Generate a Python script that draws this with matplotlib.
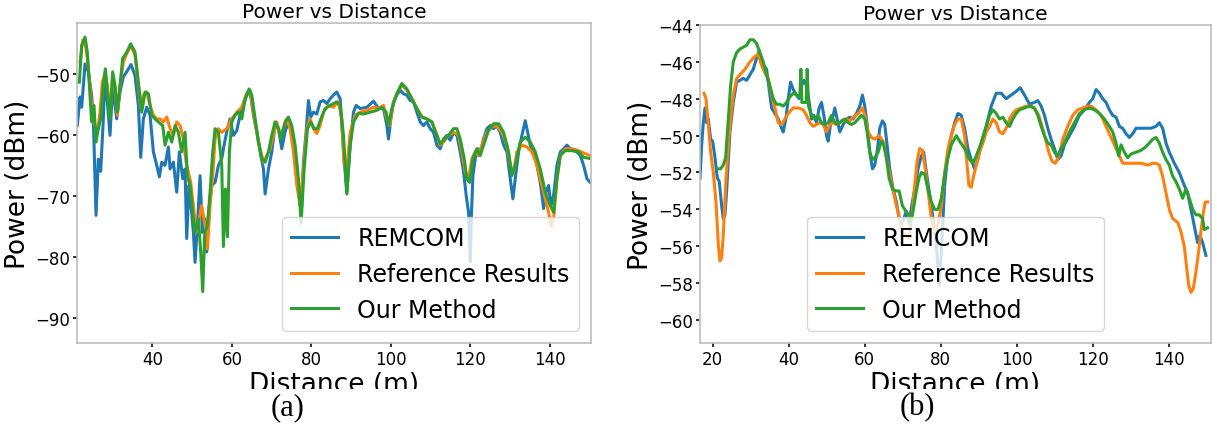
import matplotlib
matplotlib.use("Agg")
import matplotlib.pyplot as plt
from matplotlib.patches import Rectangle

# ---------------- data: panel (a) ----------------
a_rem_x = [21.08, 21.76, 22.18, 23.02, 23.85, 24.69, 25.11, 25.79, 26.37, 26.96, 27.63, 28.05, 28.64, 29.31, 29.98,
           30.57, 30.99, 31.83, 32.67, 33.51, 34.6, 35.61, 36.45, 37.04, 37.71, 38.55, 39.39, 40.23, 41.07, 41.74,
           42.33, 43.17, 44.01, 44.43, 45.27, 46.1, 46.78, 47.62, 48.2, 48.62, 49.21, 49.72, 50.3, 50.72, 51.31,
           51.98, 52.57, 53.24, 53.66, 54.33, 54.92, 55.76, 56.6, 57.44, 58.03, 58.7, 59.54, 60.38, 61.22, 62.06,
           62.9, 63.74, 64.58, 65.42, 66.26, 67.1, 67.94, 68.36, 69.2, 70.03, 70.87, 71.71, 72.55, 73.39, 74.23,
           75.07, 75.91, 76.75, 77.42, 78.01, 78.68, 79.27, 79.86, 80.53, 81.37, 82.21, 83.05, 83.89, 84.73, 85.57,
           86.41, 87.25, 88.09, 88.93, 89.77, 90.61, 91.28, 92.29, 93.97, 95.65, 96.9, 98.17, 99.0, 99.42, 100.01,
           100.68, 101.52, 102.36, 103.2, 104.04, 104.88, 105.72, 106.56, 107.4, 108.24, 109.08, 109.92, 110.76,
           111.6, 112.44, 113.28, 114.12, 114.96, 115.8, 116.64, 117.48, 118.32, 118.99, 119.58, 120.0, 120.25,
           120.67, 121.26, 121.84, 122.51, 123.35, 124.19, 125.03, 125.87, 126.71, 127.55, 128.39, 129.23, 130.07,
           130.74, 131.33, 132.17, 133.01, 133.85, 134.44, 135.11, 135.95, 136.79, 137.63, 138.47, 139.06, 139.73,
           140.32, 140.99, 141.83, 142.67, 143.51, 144.34, 145.18, 146.02, 146.86, 147.7, 148.54, 149.38, 150.22]
a_rem_y = [-58.5, -53.8, -55.5, -48.4, -49.7, -53.5, -57.4, -73.2, -64.0, -66.0, -57.4, -50.3, -54.6, -60.1, -51.9,
           -55.2, -57.4, -53.0, -50.5, -49.7, -48.5, -50.3, -55.2, -63.7, -57.4, -55.5, -56.8, -62.8, -65.0, -66.9,
           -64.5, -65.0, -62.0, -65.6, -64.5, -69.4, -62.8, -67.2, -65.6, -77.0, -68.3, -71.6, -76.0, -80.9, -74.9,
           -66.7, -76.0, -73.8, -79.2, -71.6, -68.3, -67.8, -65.0, -63.9, -61.7, -59.5, -57.4, -60.1, -59.3, -56.8,
           -55.2, -53.5, -53.0, -56.8, -59.5, -62.8, -65.6, -69.7, -65.6, -62.8, -58.5, -59.0, -62.3, -59.5, -57.9,
           -59.5, -63.9, -68.3, -73.2, -64.5, -59.5, -54.4, -57.1, -56.3, -56.6, -54.6, -54.4, -54.9, -54.1, -53.5,
           -53.0, -54.1, -62.8, -69.4, -61.7, -56.3, -55.2, -55.7, -55.5, -54.5, -55.7, -55.7, -58.5, -60.7, -57.4,
           -54.6, -53.5, -52.7, -53.3, -53.5, -54.4, -54.6, -56.3, -57.9, -58.5, -57.9, -59.0, -59.6,
           -61.7, -62.3, -60.7, -60.1, -60.9, -59.6, -60.1, -62.8, -66.1, -70.0, -72.7, -80.8, -74.0,
           -66.7, -63.9, -62.3, -62.8, -60.7, -59.0, -58.5, -59.0, -58.5, -59.6, -61.7, -62.8, -67.2,
           -70.5, -67.2, -62.8, -60.1, -57.7, -59.6, -61.7, -62.8, -65.0, -67.8, -72.1, -69.4, -68.3,
           -71.6, -69.9, -65.0, -62.8, -62.3, -61.7, -62.3, -62.6, -62.8, -63.4, -65.0, -67.2, -67.8]

a_ref_x = [21.76, 22.43, 23.02, 23.6, 24.27, 24.95, 25.53, 26.12, 26.79, 27.38, 28.05, 28.64, 29.31, 29.98, 30.57,
           31.16, 31.83, 32.67, 33.51, 34.6, 35.61, 36.45, 37.04, 37.71, 38.55, 39.39, 40.23, 41.07, 41.91, 42.75,
           43.59, 44.43, 45.27, 46.1, 46.94, 47.78, 48.46, 49.04, 49.63, 50.3, 50.97, 51.56, 52.4, 53.24, 53.83,
           54.5, 55.17, 55.76, 56.6, 57.44, 58.7, 59.96, 61.22, 62.48, 63.74, 64.58, 65.42, 66.26, 67.1, 67.94,
           68.78, 69.62, 70.62, 71.29, 72.13, 72.97, 73.81, 74.65, 75.49, 76.33, 77.17, 78.01, 78.85, 79.69, 80.53,
           81.37, 82.21, 83.05, 84.31, 85.57, 86.83, 87.67, 88.26, 88.93, 89.77, 91.03, 92.29, 93.97, 95.65, 96.9,
           98.17, 99.0, 99.68, 100.68, 101.94, 102.78, 104.04, 105.3, 106.56, 107.82, 109.08, 110.34, 111.6,
           112.44, 113.28, 114.54, 115.8, 117.06, 117.9, 118.74, 119.58, 120.42, 121.26, 122.1, 122.93, 124.19,
           125.45, 126.71, 127.97, 129.23, 130.07, 130.91, 131.75, 133.01, 134.27, 135.53, 136.79, 138.05, 138.89,
           139.73, 140.4, 140.99, 141.83, 142.67, 143.93, 145.6, 147.28, 148.96, 150.22]
a_ref_y = [-48.1, -44.5, -44.8, -47.5, -51.9, -57.4, -58.5, -59.6, -56.3, -51.4, -50.0, -51.9, -56.3, -50.5, -52.5,
           -56.8, -51.9, -48.1, -46.7, -45.4, -47.0, -51.9, -55.7, -53.5, -53.0, -55.2, -56.8, -57.4, -57.4, -57.9,
           -57.1, -59.0, -60.1, -57.9, -58.5, -60.7, -64.5, -66.1, -67.8, -71.6, -76.0, -74.4, -71.6, -74.9, -78.7,
           -71.6, -66.7, -60.7, -59.0, -59.6, -59.0, -57.4, -56.3, -55.5, -53.2, -52.7, -56.3, -59.6, -62.3, -64.5,
           -63.4, -62.3, -59.6, -57.9, -60.1, -59.0, -57.4, -59.0, -62.8, -68.3, -71.6, -65.6, -59.0, -57.4, -59.0,
           -59.8, -58.5, -56.3, -55.2, -55.5, -54.6, -57.4, -65.0, -65.5, -59.6, -56.8, -56.3, -56.0, -55.5, -55.7,
           -55.2, -57.4, -58.5, -54.6, -52.7, -51.9, -52.7, -54.1, -55.7, -57.1, -57.4, -57.9, -60.1,
           -61.7, -61.2, -60.1, -59.6, -60.1, -62.8, -66.1, -67.2, -63.9, -62.8, -63.4, -61.7, -59.6,
           -58.7, -58.5, -59.6, -61.7, -65.0, -66.1, -62.8, -61.7, -62.0, -62.8, -65.0, -68.3, -70.5,
           -72.7, -75.0, -73.8, -67.2, -63.4, -62.3, -62.3, -62.6, -63.1, -63.4]

a_our_x = [21.59, 22.18, 23.02, 23.6, 24.11, 24.69, 25.28, 25.79, 26.37, 26.96, 27.63, 28.14, 28.72, 29.31, 29.98,
           30.57, 31.16, 31.83, 32.5, 33.51, 34.52, 35.61, 36.45, 37.29, 38.13, 38.97, 39.81, 40.65, 41.49, 42.58,
           43.17, 44.01, 44.85, 45.69, 46.52, 47.36, 48.2, 48.79, 49.46, 50.13, 50.72, 51.56, 52.15, 52.65, 53.16,
           53.83, 54.5, 55.17, 55.76, 56.6, 57.44, 57.86, 58.36, 58.87, 59.37, 59.96, 60.8, 61.64, 62.48, 63.32,
           64.33, 65.0, 65.84, 66.68, 67.52, 68.36, 69.2, 70.03, 70.87, 71.71, 72.3, 73.39, 74.23, 75.07, 75.91,
           76.75, 77.42, 78.18, 79.02, 79.86, 80.7, 81.54, 82.38, 83.47, 84.73, 86.41, 87.25, 88.09, 88.93, 89.77,
           90.61, 91.87, 93.13, 94.81, 96.49, 97.75, 98.84, 99.42, 100.26, 101.52, 102.78, 104.04, 105.3, 106.56,
           107.82, 109.08, 110.34, 111.6, 112.44, 113.28, 114.54, 115.8, 116.64, 117.48, 118.48, 119.16, 119.83,
           120.67, 121.67, 122.51, 123.35, 124.61, 125.87, 127.13, 128.39, 129.65, 130.49, 131.33, 132.59, 133.85,
           135.11, 136.37, 137.63, 138.89, 140.15, 140.99, 141.83, 142.67, 143.93, 145.6, 147.28, 148.54, 150.22]
a_our_y = [-51.4, -45.4, -44.0, -46.5, -51.9, -57.9, -55.2, -61.2, -59.0, -57.4, -51.9, -49.2, -53.5, -57.4, -49.7,
           -51.9, -56.3, -51.9, -47.5, -46.5, -45.1, -46.5, -51.4, -56.3, -53.0, -53.3, -56.8, -57.4, -57.9, -58.5,
           -61.7, -59.6, -61.2, -58.5, -59.6, -62.8, -59.6, -66.7, -68.3, -72.7, -76.0, -73.8, -79.2, -85.7, -76.0,
           -74.9, -69.4, -62.8, -59.0, -59.6, -65.0, -78.3, -68.9, -76.7, -62.8, -57.9, -56.8, -56.3, -57.4, -54.1,
           -52.5, -53.5, -57.4, -61.2, -63.9, -64.5, -62.8, -60.1, -57.9, -59.0, -60.7, -57.9, -57.1, -58.5, -61.7,
           -67.2, -74.5, -65.6, -59.0, -57.9, -59.0, -59.0, -57.4, -55.7, -55.2, -54.6, -55.2, -60.1, -69.7, -61.7,
           -57.9, -56.5, -56.6, -56.3, -56.0, -55.5, -56.3, -58.5, -55.7, -53.3, -51.6, -52.5, -54.1, -55.7,
           -57.1, -57.4, -57.9, -60.1, -61.5, -60.9, -60.1, -59.0, -59.0, -60.7, -63.9, -67.2, -67.8,
           -63.9, -62.3, -63.4, -61.7, -59.3, -58.2, -58.2, -59.6, -62.8, -66.7, -65.0, -61.2, -60.4,
           -61.2, -62.8, -65.6, -69.4, -71.6, -72.7, -67.2, -63.4, -62.6, -62.6, -62.8, -63.7, -63.9]

# ---------------- data: panel (b) ----------------
b_rem_x = [16.7, 17.14, 17.57, 18.01, 18.45, 18.89, 19.5, 20.02, 20.64, 21.25, 21.77, 22.39, 22.82, 23.26, 23.7,
           24.14, 24.57, 25.45, 26.32, 27.2, 28.07, 28.95, 29.82, 30.7, 31.57, 32.27, 32.89, 33.5, 34.2, 34.9,
           35.51, 36.39, 37.26, 38.14, 38.57, 39.27, 39.88, 40.5, 41.2, 42.07, 42.77, 43.38, 44.0, 44.7, 45.4,
           46.01, 46.62, 47.32, 48.02, 48.63, 49.25, 49.95, 50.38, 51.0, 51.7, 52.13, 52.75, 53.45, 54.32, 55.2,
           56.07, 56.95, 57.82, 58.7, 59.39, 60.01, 60.62, 61.32, 62.02, 62.63, 63.24, 63.94, 64.64, 65.26, 65.87,
           66.57, 67.45, 68.32, 69.02, 69.63, 70.24, 70.94, 71.64, 72.26, 73.13, 74.01, 74.88, 75.49, 76.19, 77.07,
           77.94, 78.82, 79.52, 80.13, 81.0, 81.88, 82.75, 83.63, 84.5, 85.36, 86.24, 87.11, 87.99, 88.86, 89.74,
           90.61, 91.92, 93.24, 94.55, 95.86, 97.17, 98.49, 99.8, 100.85, 101.99, 103.3, 104.61, 105.48, 106.36,
           107.23, 108.11, 108.98, 109.86, 110.73, 111.61, 112.48, 113.8, 115.11, 116.42, 117.73, 119.05, 119.92,
           120.8, 121.67, 122.54, 123.42, 124.29, 125.17, 126.04, 126.92, 127.79, 128.67, 129.54, 130.42, 131.29,
           132.61, 133.92, 135.23, 136.54, 137.42, 138.29, 139.17, 140.04, 141.36, 142.67, 143.98, 144.86, 145.73,
           146.6, 147.48, 148.09, 148.79, 149.67]
b_rem_y = [-52.3, -50.5, -49.3, -48.5, -49.3, -49.1, -50.2, -50.3, -51.2, -52.3, -52.5, -53.8, -54.5, -54.3, -53.0,
           -51.4, -49.8, -48.2, -47.1, -47.0, -46.9, -47.0, -46.7, -46.4, -45.8, -45.4, -46.0, -46.2, -46.4, -47.5,
           -48.5, -48.8, -49.1, -49.6, -49.8, -49.1, -48.0, -47.1, -47.5, -47.8, -48.0, -47.3, -47.0, -47.3, -48.2,
           -49.1, -48.9, -49.3, -48.5, -48.2, -48.9, -50.0, -50.3, -49.4, -48.9, -48.5, -49.1, -49.8, -49.4, -49.1,
           -49.0, -49.1, -48.8, -48.4, -47.8, -48.4, -49.4, -50.9, -51.8, -51.6, -50.9, -49.6, -49.2, -49.4, -50.5,
           -51.8, -52.9, -53.6, -54.5, -54.8, -54.5, -54.1, -54.8, -53.9, -52.9, -51.8, -51.1, -50.9, -52.0, -53.2,
           -54.5, -55.9, -58.1, -56.3, -52.7, -50.9, -50.0, -49.3, -48.8, -48.9, -49.6, -50.7, -51.3, -51.8, -51.3,
           -50.4, -49.5, -48.4, -47.7, -47.7, -48.0, -47.8, -47.6, -47.4, -47.8, -48.3, -48.2, -48.1, -48.4,
           -48.9, -49.6, -50.2, -50.7, -51.3, -51.1, -50.5, -50.0, -49.5, -48.9, -48.6, -48.2, -48.0,
           -47.5, -47.7, -48.0, -48.2, -48.6, -48.9, -49.0, -49.5, -49.6, -49.9, -50.1, -49.9, -49.6,
           -49.6, -49.6, -49.6, -49.5, -49.3, -49.6, -50.4, -50.9, -51.5, -52.0, -52.7, -53.1, -54.0,
           -54.9, -55.8, -55.4, -55.8, -56.5]

b_ref_x = [17.75, 18.27, 18.89, 19.5, 20.2, 20.9, 21.51, 21.95, 22.39, 22.82, 23.44, 24.14, 24.75, 25.45, 26.32,
           27.2, 28.51, 29.82, 31.14, 32.01, 32.89, 33.76, 34.64, 35.51, 36.39, 37.26, 38.14, 39.01, 39.88, 41.2,
           42.51, 43.82, 44.7, 45.57, 46.45, 47.32, 48.2, 49.07, 49.95, 50.82, 51.7, 52.57, 53.45, 54.32, 55.2,
           56.07, 56.95, 58.26, 59.39, 60.01, 60.88, 61.76, 62.63, 63.77, 64.82, 65.69, 66.57, 67.45, 68.32, 69.19,
           69.89, 70.77, 71.64, 72.52, 73.13, 73.74, 74.44, 75.14, 75.76, 76.63, 77.51, 78.38, 79.26, 80.13, 81.0,
           81.88, 82.75, 83.63, 84.5, 85.36, 86.24, 86.85, 87.37, 87.99, 88.6, 89.3, 90.17, 91.05, 91.92, 92.8,
           93.67, 94.55, 95.42, 96.3, 97.17, 98.05, 98.92, 99.8, 101.11, 102.42, 103.73, 104.87, 105.75, 106.62,
           107.5, 108.37, 109.25, 110.12, 111.0, 112.05, 113.36, 114.67, 115.98, 117.3, 118.61, 119.48, 120.8,
           122.11, 123.42, 124.73, 126.04, 126.92, 127.79, 129.11, 130.86, 132.61, 134.36, 135.67, 136.54, 137.42,
           138.29, 139.17, 140.04, 140.92, 142.23, 143.1, 143.98, 144.59, 145.12, 145.73, 146.34, 147.04, 147.74,
           148.35, 148.97, 149.49, 150.1]
b_ref_y = [-47.7, -48.0, -49.4, -50.9, -52.0, -53.6, -55.9, -56.8, -56.6, -55.4, -52.7, -50.5, -49.1, -47.8, -46.9,
           -46.7, -46.4, -46.0, -45.7, -45.6, -46.2, -46.6, -46.9, -47.8, -48.5, -49.3, -49.4, -49.1, -48.8, -48.5,
           -48.5, -48.6, -48.9, -49.3, -49.5, -49.4, -49.3, -49.4, -49.8, -49.4, -49.3, -49.4, -49.3, -49.2, -49.1,
           -49.2, -49.0, -48.8, -48.5, -48.9, -49.8, -50.1, -50.2, -50.0, -50.3, -51.2, -52.1, -53.0, -53.8, -54.5,
           -55.2, -55.4, -55.6, -54.1, -52.7, -51.4, -50.7, -50.8, -51.6, -53.0, -54.5, -55.2, -54.8, -53.8, -52.0,
           -50.7, -50.0, -49.4, -49.1, -49.1, -50.0, -51.5, -52.7, -52.8, -52.2, -51.6, -50.9, -50.4, -49.8, -49.5,
           -49.1, -49.3, -49.8, -49.9, -49.6, -49.1, -48.8, -48.6, -48.5, -48.4, -48.4, -48.6, -48.9, -49.5,
           -50.2, -50.9, -51.4, -51.5, -51.1, -50.2, -49.5, -48.9, -48.6, -48.5, -48.4, -48.4, -48.6,
           -48.9, -49.5, -50.1, -50.7, -51.1, -51.5, -51.5, -51.5, -51.5, -51.6, -51.5, -51.5, -51.6,
           -52.2, -53.1, -54.0, -54.5, -54.7, -55.2, -56.0, -57.1, -58.1, -58.5, -58.3, -57.4, -56.3,
           -55.2, -54.2, -53.6, -53.6]

b_our_x = [21.51, 22.12, 22.82, 23.44, 24.14, 24.75, 25.45, 26.32, 27.2, 28.07, 28.95, 29.82, 30.7, 31.57, 32.45,
           33.32, 34.2, 35.07, 35.95, 36.82, 37.7, 38.57, 39.45, 40.32, 41.2, 42.07, 42.95, 43.21, 43.47, 44.26,
           44.61, 44.87, 45.22, 46.01, 46.88, 47.76, 48.63, 49.51, 50.38, 51.26, 52.13, 53.01, 53.88, 54.76, 55.63,
           56.51, 57.38, 58.26, 59.13, 60.01, 60.62, 61.32, 62.02, 62.63, 63.51, 64.38, 65.0, 65.69, 66.39, 67.27,
           68.14, 69.02, 69.89, 70.77, 71.38, 71.99, 72.69, 73.57, 74.27, 74.88, 75.76, 76.63, 77.51, 78.38, 79.26,
           80.13, 81.0, 81.88, 82.75, 84.07, 84.92, 86.24, 87.55, 88.42, 89.3, 90.61, 91.92, 92.8, 93.67, 94.55,
           95.42, 96.3, 97.17, 98.05, 98.92, 99.8, 100.67, 101.99, 103.3, 104.61, 105.48, 106.36, 107.23, 108.11,
           108.98, 109.86, 110.73, 111.61, 112.48, 113.8, 115.11, 116.42, 117.73, 119.05, 120.36, 121.67, 122.98,
           124.29, 125.17, 126.04, 126.74, 127.36, 128.23, 129.11, 129.98, 131.29, 132.61, 133.92, 134.8, 135.67,
           136.54, 137.42, 138.29, 139.17, 140.04, 140.92, 141.79, 142.67, 143.54, 144.42, 145.29, 146.17, 147.04,
           147.92, 148.79, 149.23, 150.1]
b_our_y = [-51.8, -51.8, -51.6, -51.2, -49.1, -47.3, -46.0, -45.5, -45.3, -45.2, -45.1, -44.8, -44.8, -45.0, -45.5,
           -46.0, -46.7, -47.3, -48.0, -48.3, -48.3, -48.4, -48.2, -47.9, -47.7, -47.8, -47.9, -46.4, -48.2, -48.2,
           -48.2, -46.4, -48.4, -48.9, -49.1, -48.9, -49.3, -49.4, -49.3, -48.9, -49.3, -49.4, -49.2, -49.1, -49.3,
           -49.4, -49.3, -49.1, -48.9, -49.1, -49.8, -50.9, -51.3, -51.2, -50.9, -50.3, -50.5, -51.2, -52.3, -52.9,
           -53.0, -53.0, -53.8, -54.1, -54.3, -54.8, -54.1, -53.0, -52.3, -52.0, -52.1, -52.9, -53.6, -54.0, -54.0,
           -53.4, -52.1, -51.2, -50.5, -50.0, -50.3, -50.7, -51.3, -51.5, -51.1, -50.4, -49.5, -48.9, -48.6, -48.8,
           -49.1, -49.0, -49.3, -49.5, -49.1, -48.8, -48.6, -48.5, -48.4, -48.5, -48.9, -49.5, -50.0, -50.4,
           -50.5, -50.9, -51.1, -50.7, -50.4, -49.8, -49.3, -48.8, -48.6, -48.5, -48.6, -48.8, -49.1,
           -49.5, -49.8, -50.4, -51.1, -50.5, -50.9, -51.2, -51.0, -50.9, -50.8, -50.6, -50.4, -50.2,
           -50.1, -50.4, -50.9, -51.3, -51.6, -52.2, -52.5, -52.9, -53.4, -52.9, -53.4, -54.0, -54.3,
           -54.3, -54.5, -55.1, -55.0]

labels = ["REMCOM", "Reference Results", "Our Method"]
colors = ["#1f77b4", "#ff7f0e", "#2ca02c"]

panels = [
    dict(series=[(a_rem_x, a_rem_y), (a_ref_x, a_ref_y), (a_our_x, a_our_y)],
         xlim=(21.0, 150.4), ylim=(-94.1, -41.7), yticks=[-90, -80, -70, -60, -50],
         xticks=[40, 60, 80, 100, 120, 140], loc="lower right", caption="(a)",
         rect=[77 / 1217, 83 / 427, 514 / 1217, 320 / 427], cap_x=288 / 1217),
    dict(series=[(b_rem_x, b_rem_y), (b_ref_x, b_ref_y), (b_our_x, b_our_y)],
         xlim=(16.7, 151.0), ylim=(-61.25, -44.0), yticks=[-60, -58, -56, -54, -52, -50, -48, -46, -44],
         xticks=[20, 40, 60, 80, 100, 120, 140], loc="lower center", caption="(b)",
         rect=[700 / 1217, 83 / 427, 511 / 1217, 318 / 427], cap_x=917 / 1217),
]

fig = plt.figure(figsize=(12.17, 4.27), dpi=100)
for p in panels:
    ax = fig.add_axes(p["rect"])
    for (xs, ys), lab, c in zip(p["series"], labels, colors):
        ax.plot(xs, ys, color=c, lw=2.2, label=lab)
    ax.set_xlim(*p["xlim"])
    ax.set_ylim(*p["ylim"])
    ax.set_xticks(p["xticks"])
    ax.set_yticks(p["yticks"])
    ax.tick_params(labelsize=12, length=3, width=1.3, color="#222222", pad=2)
    for s in ax.spines.values():
        s.set_color("#bdbdbd")
        s.set_linewidth(1.2)
    ax.set_title("Power vs Distance", fontsize=14.5, pad=4)
    ax.set_xlabel("Distance (m)", fontsize=19, labelpad=2)
    ax.set_ylabel("Power (dBm)", fontsize=19, labelpad=3)
    ax.legend(loc=p["loc"], fontsize=17, framealpha=0.8, handlelength=2.0)
    fig.text(p["cap_x"], 408 / 427, "", fontsize=1)

# crop of the bottom strip (caption area)
fig.patches.append(Rectangle((0, 0), 1, 37 / 427, transform=fig.transFigure,
                             facecolor="white", edgecolor="none", zorder=10))
for p in panels:
    fig.text(p["cap_x"], 19 / 427, p["caption"], fontsize=22, family="Liberation Serif",
             ha="center", va="center", zorder=11)

fig.savefig("out.png", dpi=100)
